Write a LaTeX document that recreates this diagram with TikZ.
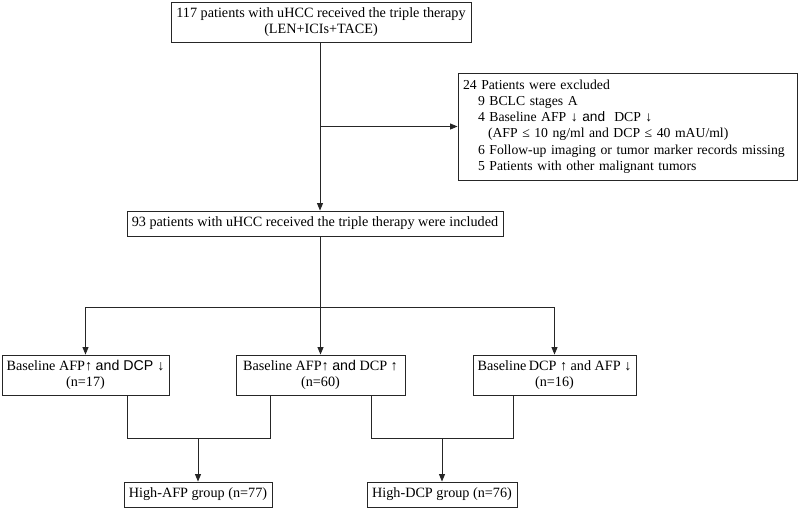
\documentclass[tikz,border=0pt]{standalone}
\usepackage{fontspec}
\setmainfont{Liberation Serif}
\newfontfamily\arsans{Liberation Sans}
\usetikzlibrary{arrows.meta}
\begin{document}
\begin{tikzpicture}[x=1pt,y=-1pt,
  box/.style={draw=black!85, line width=0.9pt, inner sep=0pt, align=center,
    font=\fontsize{14.2}{16.5}\selectfont},
  conn/.style={draw=black!85, line width=0.9pt},
  arr/.style={conn, -{Triangle[length=7.5pt,width=6pt]}}]
\useasboundingbox (0,0) rectangle (800,509);
\node[box, minimum width=300pt, minimum height=40pt] (top) at (321,22)
  {117 patients with uHCC received the triple therapy\\(LEN+ICIs+TACE)};
\node[box, align=left, minimum width=339pt, minimum height=107pt, text width=329pt,
  font=\fontsize{13.7}{16.3}\selectfont] (ex) at (627.5,126.5)
  {24 Patients were excluded\\
   \hspace*{15pt}9 BCLC stages A\\
   \hspace*{15pt}4 Baseline AFP ↓ {\arsans and}\ \ DCP ↓\\
   \hspace*{25pt}(AFP ≤ 10 ng/ml and DCP ≤ 40 mAU/ml)\\
   \hspace*{15pt}6 Follow-up imaging or tumor marker records missing\\
   \hspace*{15pt}5 Patients with other malignant tumors};
\node[box, minimum width=376pt, minimum height=25pt] (inc) at (315,223.5)
  {93 patients with uHCC received the triple therapy were included};
\node[box, minimum width=167pt, minimum height=40pt] (bA) at (85.5,375)
  {Baseline AFP↑ {\arsans and DCP ↓}\\(n=17)};
\node[box, minimum width=169pt, minimum height=40pt] (bB) at (320.5,375)
  {Baseline AFP↑ {\arsans and} DCP ↑\\(n=60)};
\node[box, minimum width=163pt, minimum height=40pt] (bC) at (554.5,375)
  {Baseline\,DCP ↑ and AFP ↓\\(n=16)};
\node[box, minimum width=148pt, minimum height=25pt] (hA) at (198,494.5)
  {High-AFP group (n=77)};
\node[box, minimum width=150pt, minimum height=25pt] (hB) at (442,494.5)
  {High-DCP group (n=76)};
\coordinate (mainx) at (320,0);
\coordinate (split) at (320,307);
\coordinate (ja) at (127,438);
\coordinate (jb) at (270,438);
\coordinate (jc) at (371,438);
\coordinate (jd) at (513,438);
\draw[arr] (top.south -| mainx) -- (inc.north -| mainx);
\draw[arr] (ex.west -| mainx) -- (ex.west);
\draw[conn] (inc.south -| split) -- (split);
\draw[arr] (split) -| (bA.north);
\draw[arr] (split) -| (bC.north);
\draw[arr] (split -| bB.north) -- (bB.north);
\draw[conn] (bA.south -| ja) -- (ja) -- (jb) -- (bB.south -| jb);
\draw[arr] (hA.north |- ja) -- (hA.north);
\draw[conn] (bB.south -| jc) -- (jc) -- (jd) -- (bC.south -| jd);
\draw[arr] (hB.north |- jc) -- (hB.north);
\end{tikzpicture}
\end{document}
